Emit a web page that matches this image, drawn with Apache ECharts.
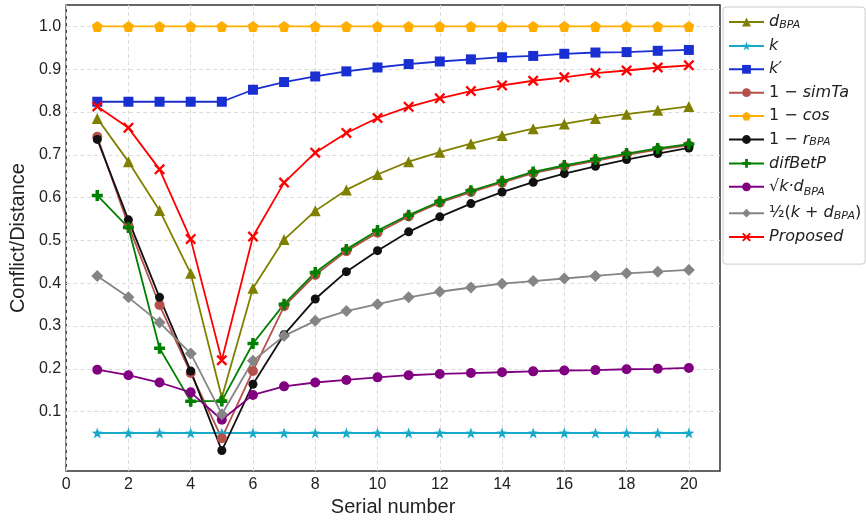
<!DOCTYPE html>
<html>
<head>
<meta charset="UTF-8">
<title>Conflict/Distance</title>
<script src="https://cdn.jsdelivr.net/npm/echarts@6/dist/echarts.min.js"></script>
<style>
  html, body { margin: 0; padding: 0; background: #fff; }
  #chart { width: 866px; height: 522px; }
</style>
</head>
<body>
<div id="chart"></div>
<script>
// serial numbers 1..20
var serial = [1,2,3,4,5,6,7,8,9,10,11,12,13,14,15,16,17,18,19,20];
var xTicks = [0,2,4,6,8,10,12,14,16,18,20];
var yTicks = [0.1,0.2,0.3,0.4,0.5,0.6,0.7,0.8,0.9,1.0];

var dBPA     = [0.785,0.684,0.570,0.423,0.133,0.388,0.502,0.569,0.618,0.654,0.684,0.706,0.726,0.745,0.761,0.772,0.785,0.795,0.804,0.813];
var kVals    = [0.05,0.05,0.05,0.05,0.05,0.05,0.05,0.05,0.05,0.05,0.05,0.05,0.05,0.05,0.05,0.05,0.05,0.05,0.05,0.05];
var kPrime   = [0.824,0.824,0.824,0.824,0.824,0.852,0.870,0.883,0.895,0.904,0.912,0.918,0.923,0.928,0.931,0.936,0.939,0.940,0.943,0.945];
var simTa    = [0.742,0.535,0.349,0.190,0.038,0.195,0.346,0.419,0.475,0.518,0.556,0.588,0.613,0.635,0.657,0.672,0.686,0.700,0.712,0.722];
var cosVals  = [1,1,1,1,1,1,1,1,1,1,1,1,1,1,1,1,1,1,1,1];
var rBPA     = [0.736,0.548,0.367,0.195,0.009,0.164,0.280,0.363,0.427,0.476,0.520,0.555,0.586,0.613,0.636,0.656,0.673,0.689,0.703,0.716];
var difBetP  = [0.605,0.530,0.248,0.124,0.125,0.259,0.351,0.425,0.479,0.523,0.559,0.591,0.616,0.638,0.660,0.675,0.689,0.703,0.715,0.725];
var sqrtKd   = [0.198,0.185,0.168,0.145,0.081,0.139,0.159,0.168,0.174,0.180,0.185,0.188,0.190,0.192,0.194,0.196,0.197,0.199,0.200,0.202];
var halfKd   = [0.417,0.367,0.308,0.236,0.094,0.219,0.277,0.312,0.335,0.351,0.367,0.380,0.390,0.399,0.405,0.411,0.417,0.423,0.427,0.431];
var proposed = [0.813,0.763,0.666,0.503,0.220,0.509,0.635,0.705,0.751,0.786,0.812,0.832,0.849,0.862,0.873,0.881,0.891,0.897,0.904,0.909];

// marker shapes
var STAR = 'path://M0,-10 L2.35,-3.24 L9.51,-3.09 L3.8,1.24 L5.88,8.09 L0,4 L-5.88,8.09 L-3.8,1.24 L-9.51,-3.09 L-2.35,-3.24 Z';
var PENTA = 'path://M0,-10 L9.51,-3.09 L5.88,8.09 L-5.88,8.09 L-9.51,-3.09 Z';
var PLUS = 'path://M-3.2,-10 L3.2,-10 L3.2,-3.2 L10,-3.2 L10,3.2 L3.2,3.2 L3.2,10 L-3.2,10 L-3.2,3.2 L-10,3.2 L-10,-3.2 L-3.2,-3.2 Z';
var XMARK = 'path://M-7,-10 L0,-3 L7,-10 L10,-7 L3,0 L10,7 L7,10 L0,3 L-7,10 L-10,7 L-3,0 L-10,-7 Z';

function pairs(vals) {
  return serial.map(function (s, i) { return [s, vals[i]]; });
}

function line(name, vals, color, symbol, size) {
  return {
    name: name,
    type: 'line',
    data: pairs(vals),
    symbol: symbol,
    symbolSize: size,
    showAllSymbol: true,
    lineStyle: { color: color, width: 1.8 },
    itemStyle: { color: color, opacity: 1 },
    emphasis: { disabled: true },
    animation: false
  };
}

var labels = {
  'dBPA': '{i|d}{s|BPA}',
  'k': '{i|k}',
  'kp': '{i|k′}',
  'simTa': '{n|1 − }{i|simTa}',
  'cos': '{n|1 − }{i|cos}',
  'rBPA': '{n|1 − }{i|r}{s|BPA}',
  'difBetP': '{i|difBetP}',
  'sqrt': '{g|}{n|√}{i|k·d}{S|BPA}',
  'half': '{n|½(}{i|k}{n| + }{i|d}{s|BPA}{n|)}',
  'Proposed': '{i|Proposed}'
};

var chart = echarts.init(document.getElementById('chart'));
var option = {
  backgroundColor: '#fff',
  grid: {
    left: 63, right: 146, top: 5, bottom: 50,
    show: true, borderColor: '#333', borderWidth: 1.5, backgroundColor: 'transparent'
  },
  legend: {
    orient: 'vertical',
    left: 723, top: 7,
    width: 140,
    padding: [7, 4, 19, 5],
    itemWidth: 35, itemHeight: 11,
    itemGap: 7.4,
    backgroundColor: '#fff',
    borderColor: '#ccc', borderWidth: 1, borderRadius: 3,
    formatter: function (name) { return labels[name]; },
    textStyle: {
      rich: {
        n: { fontFamily: 'DejaVu Sans', fontSize: 16, color: '#222' },
        i: { fontFamily: 'DejaVu Sans', fontStyle: 'italic', fontSize: 16, color: '#222' },
        s: { fontFamily: 'DejaVu Sans', fontStyle: 'italic', fontSize: 11, color: '#222', verticalAlign: 'bottom', padding: [6, 0, 0, 0] },
        S: { fontFamily: 'DejaVu Sans', fontStyle: 'italic', fontSize: 11, color: '#222', verticalAlign: 'middle', padding: [11, 0, 0, 0] },
        g: { height: 31, width: 0 }
      }
    }
  },
  xAxis: {
    type: 'value', min: 0, max: 21,
    name: 'Serial number', nameLocation: 'middle', nameGap: 25,
    nameTextStyle: { fontFamily: 'Liberation Sans', fontSize: 20, color: '#222' },
    axisLine: { show: false },
    axisTick: { show: false, customValues: xTicks },
    axisLabel: { customValues: xTicks, fontFamily: 'Liberation Sans', fontSize: 16, color: '#222', margin: 5 },
    splitLine: { show: true, lineStyle: { color: '#dcdcdc', type: [4, 3], width: 1 } }
  },
  yAxis: {
    type: 'value', min: -0.039, max: 1.05,
    name: 'Conflict/Distance', nameLocation: 'middle', nameGap: 36,
    nameTextStyle: { fontFamily: 'Liberation Sans', fontSize: 20, color: '#222' },
    axisLine: { show: false },
    axisTick: { show: false, customValues: yTicks },
    axisLabel: { customValues: yTicks, fontFamily: 'Liberation Sans', fontSize: 16, color: '#222', margin: 5,
      formatter: function (v) { return v.toFixed(1); } },
    splitLine: { show: true, lineStyle: { color: '#dcdcdc', type: [4, 3], width: 1 } }
  },
  series: [
    line('dBPA', dBPA, '#808000', 'triangle', 11),
    line('k', kVals, '#17a9c9', STAR, 11),
    line('kp', kPrime, '#1a2fd2', 'rect', 10),
    line('simTa', simTa, '#b5504a', 'circle', 10),
    line('cos', cosVals, '#ffae00', PENTA, 11),
    line('rBPA', rBPA, '#111111', 'circle', 9),
    line('difBetP', difBetP, '#008000', PLUS, 11),
    line('sqrt', sqrtKd, '#800080', 'circle', 10),
    line('half', halfKd, '#858585', 'diamond', 12),
    line('Proposed', proposed, '#ff0000', XMARK, 11)
  ]
};
chart.setOption(option);
</script>
</body>
</html>
